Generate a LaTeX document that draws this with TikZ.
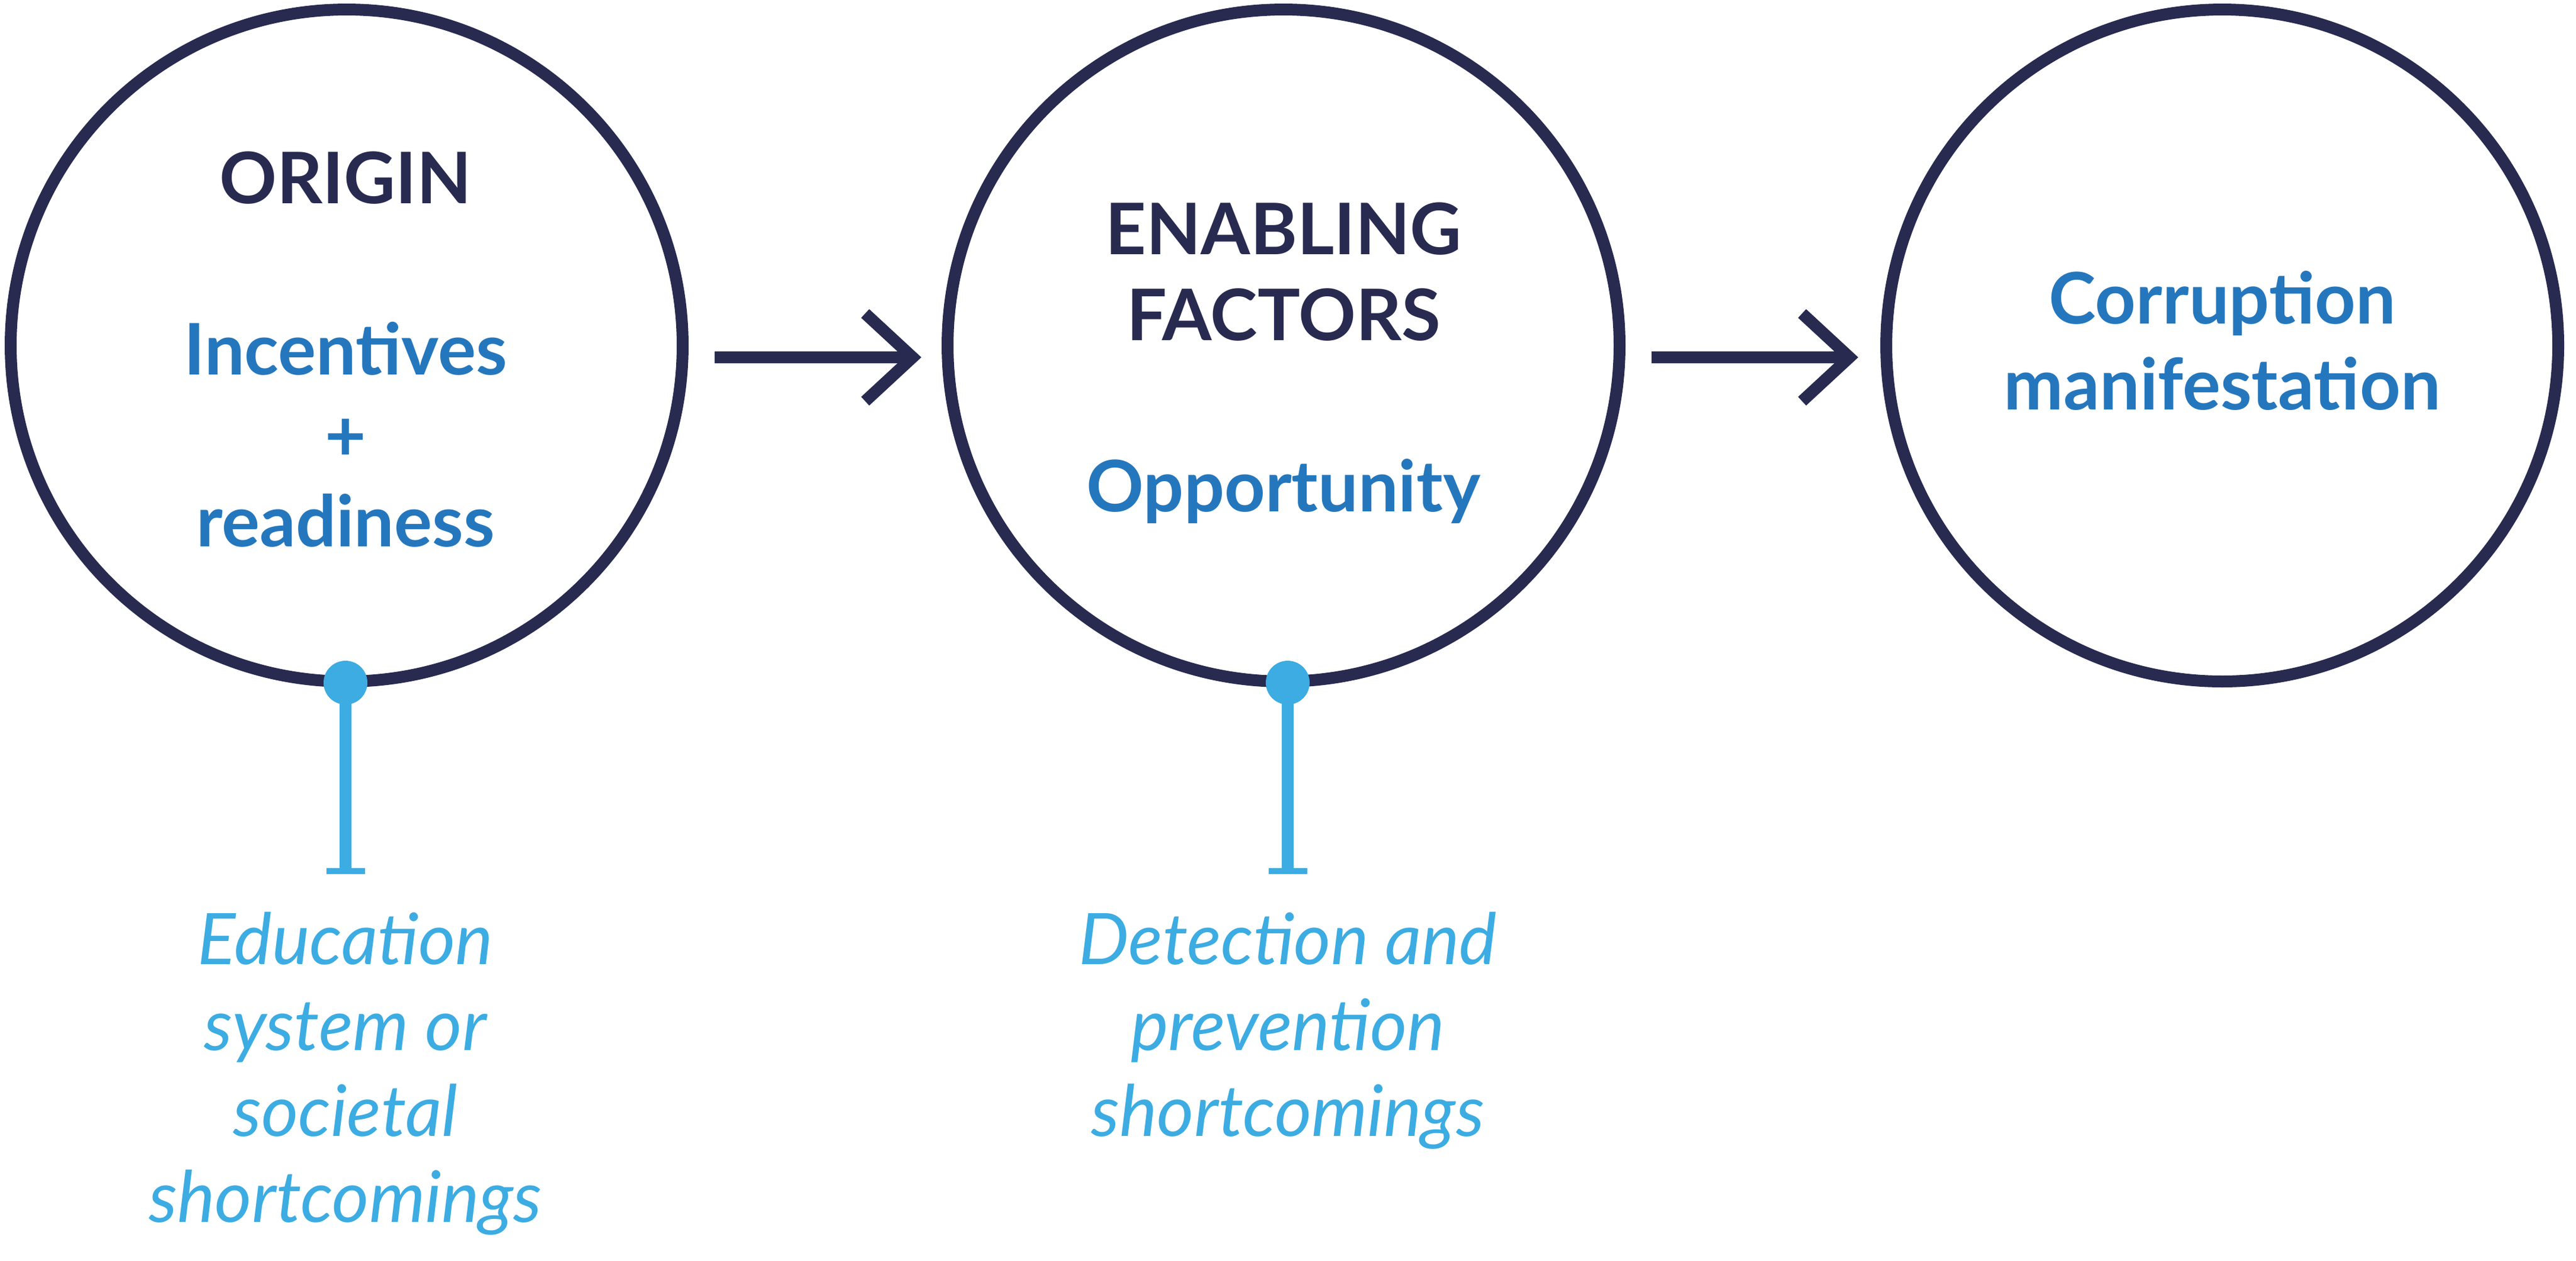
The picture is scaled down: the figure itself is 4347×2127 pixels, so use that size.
\documentclass[tikz,border=0pt]{standalone}
\usepackage{fontspec}
\setmainfont{Lato}
\definecolor{navy}{HTML}{282A50}
\definecolor{tblue}{HTML}{2577BD}
\definecolor{lblue}{HTML}{3CACE2}
\begin{document}
\begin{tikzpicture}[x=0.1pt,y=-0.1pt,
  stage/.style={circle, draw=navy, line width=2pt, minimum size=113.4pt, inner sep=0pt},
  head/.style={font=\fontsize{12}{14.5}\selectfont\bfseries, text=navy, anchor=base, inner sep=0pt},
  key/.style={font=\fontsize{12}{14.5}\selectfont\bfseries, text=tblue, anchor=base, inner sep=0pt},
  note/.style={font=\fontsize{12}{14.5}\selectfont\itshape, text=lblue, anchor=base, inner sep=0pt},
  flow/.style={draw=navy, line width=2pt},
  barb/.style={draw=navy, line width=2pt, line join=miter},
  dotmark/.style={circle, fill=lblue, minimum size=7.4pt, inner sep=0pt},
  stem/.style={draw=lblue, line width=2pt},
  tbar/.style={draw=lblue, line width=1pt}]
\useasboundingbox (0,0) rectangle (4347,2127);

% stages
\node[stage] (c1) at (585,583) {};
\node[stage] (c2) at (2166,583) {};
\node[stage] (c3) at (3750,583) {};

% texts in circles
\node[head] (t1a) at (583,343) {ORIGIN};
\node[key]  (t1b) at (583,632) {Incentives};
\node[key]  (t1c) at (583,777) {+};
\node[key]  (t1d) at (583,922) {readiness};

\node[head] (t2a) at (2166,429) {ENABLING};
\node[head] (t2b) at (2166,574) {FACTORS};
\node[key]  (t2c) at (2166,863) {Opportunity};

\node[key]  (t3a) at (3750,546) {Corruption};
\node[key]  (t3b) at (3750,691) {manifestation};

% arrows
\coordinate (a1s) at (1206,603);
\coordinate (a1t) at (1540,603);
\draw[flow] (a1s) -- (a1t);
\draw[barb] ([shift={(-80,-74)}]a1t) -- (a1t) -- ([shift={(-80,74)}]a1t);

\coordinate (a2s) at (2787,603);
\coordinate (a2t) at (3121,603);
\draw[flow] (a2s) -- (a2t);
\draw[barb] ([shift={(-80,-74)}]a2t) -- (a2t) -- ([shift={(-80,74)}]a2t);

% inhibitors
\node[dotmark] (d1) at (583,1152) {};
\coordinate (b1) at (583,1470);
\draw[stem] (d1.center) -- (b1);
\draw[tbar] ([xshift=-3.25pt]b1) -- ([xshift=3.25pt]b1);

\node[dotmark] (d2) at (2173,1152) {};
\coordinate (b2) at (2173,1470);
\draw[stem] (d2.center) -- (b2);
\draw[tbar] ([xshift=-3.25pt]b2) -- ([xshift=3.25pt]b2);

% notes
\node[note] (n1a) at (583,1627) {Education};
\node[note] (n1b) at (583,1772) {system or};
\node[note] (n1c) at (583,1917) {societal};
\node[note] (n1d) at (583,2062) {shortcomings};

\node[note] (n2a) at (2173,1627) {Detection and};
\node[note] (n2b) at (2173,1772) {prevention};
\node[note] (n2c) at (2173,1917) {shortcomings};
\end{tikzpicture}
\end{document}
